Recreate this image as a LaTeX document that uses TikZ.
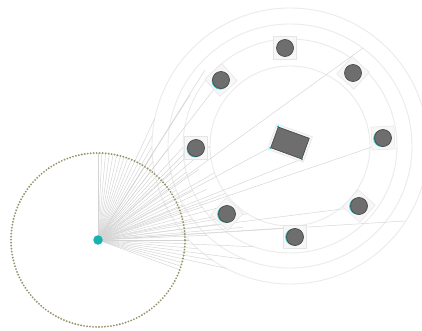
\documentclass[tikz,border=0pt]{standalone}
\usetikzlibrary{calc}
\definecolor{teal1}{RGB}{22,178,178}
\definecolor{dotcol}{RGB}{152,148,108}
\definecolor{nodegray}{RGB}{110,110,110}
\definecolor{nodeline}{RGB}{75,75,75}
\begin{document}
\begin{tikzpicture}[x=1pt,y=-1pt,
  ring/.style={draw=black!8, line width=0.9pt},
  ray/.style={draw=black!17, line width=0.45pt},
  dotring/.style={draw=dotcol, line width=2.1pt, dash pattern=on 0pt off 3pt, line cap=round},
  sqbg/.style={shape=rectangle, draw=black!10, fill=black!3, line width=0.5pt, minimum size=23pt, inner sep=0pt},
  gdot/.style={shape=circle, draw=nodeline, fill=nodegray, line width=0.7pt, minimum size=17pt, inner sep=0pt},
  cydot/.style={shape=circle, fill=teal1!80, minimum size=17pt, inner sep=0pt},
  src/.style={shape=circle, fill=teal1, minimum size=9.5pt, inner sep=0pt},
  rectbg/.style={shape=rectangle, draw=black!10, fill=black!3, line width=0.5pt, minimum width=38pt, minimum height=27pt, inner sep=0pt},
  rectnode/.style={shape=rectangle, draw=nodeline, fill=nodegray, line width=0.7pt, minimum width=33pt, minimum height=22pt, inner sep=0pt},
  corner/.style={shape=circle, fill=teal1, minimum size=2.2pt, inner sep=0pt}
]
\fill[white] (0,0) rectangle (422,331);
\useasboundingbox (0,0) rectangle (422,331);

% centres
\coordinate (C) at (290,146);
\coordinate (Sc) at (98,240);

% concentric rings
\foreach \r in {80,107,122,138}{
  \draw[ring] (C) circle (\r pt);
}

% node positions
\coordinate (p1) at (285,48);
\coordinate (p2) at (353,73);
\coordinate (p3) at (383,138);
\coordinate (p4) at (359,206);
\coordinate (p5) at (295,237);
\coordinate (p6) at (227,214);
\coordinate (p7) at (196,148);
\coordinate (p8) at (221,80);
\coordinate (pr) at (290,143);

% free ends of long rays
\coordinate (q1) at (363,48);
\coordinate (q2) at (405,221);
\coordinate (q3) at (271,147);
\coordinate (q4) at (302,159);
\coordinate (q5) at (375,146);
\coordinate (q6) at (284,228);
\coordinate (q7) at (350,208);
\coordinate (q8) at (205,70);
\coordinate (q9) at (190,95);

% fan of rays
\foreach \i in {0,...,44}{
  \pgfmathsetmacro\th{90-2.5*\i}
  \pgfmathsetmacro\du{-19.2*cos(\th)-9.4*sin(\th)}
  \pgfmathtruncatemacro\k{mod(\i,4)}
  \pgfmathsetmacro\rr{{8.0,10.7,9.4,12.2}[\k]}
  \pgfmathsetmacro\dA{\du*\du-457+\rr*\rr}
  \pgfmathsetmacro\dB{\du*\du-457+190.44}
  \pgfmathsetmacro\tt{\dA>0 ? (-\du-sqrt(abs(\dA))) : (\dB>0 ? (-\du-sqrt(abs(\dB))) : 8.7)}
  \pgfmathsetmacro\tl{max(\tt,8.7)*10}
  \coordinate (e\i) at ({98+\tl*cos(\th)},{240-\tl*sin(\th)});
  \draw[ray] (Sc) -- (e\i);
}

% long rays into the structure
\foreach \q in {q1,q2,q3,q4,q5,q6,q7,q8,q9,p6,p7,p8}{
  \draw[ray] (Sc) -- (\q);
}

% dotted circle
\draw[dotring] (Sc) circle (87pt);

% node backgrounds
\node[sqbg, rotate=0]  (b1) at (p1) {};
\node[sqbg, rotate=48] (b2) at (p2) {};
\node[sqbg, rotate=3]  (b3) at (p3) {};
\node[sqbg, rotate=-42](b4) at (p4) {};
\node[sqbg, rotate=0]  (b5) at (p5) {};
\node[sqbg, rotate=48] (b6) at (p6) {};
\node[sqbg, rotate=0]  (b7) at (p7) {};
\node[sqbg, rotate=42] (b8) at (p8) {};
\node[rectbg, rotate=-20] (rb) at (pr) {};

% cyan crescents
\foreach \p in {p3,p4,p5,p6,p7,p8}{
  \node[cydot] at ($(\p)!1.3pt!(Sc)$) {};
}

% gray nodes
\node[gdot] (n1) at (p1) {};
\node[gdot] (n2) at (p2) {};
\node[gdot] (n3) at (p3) {};
\node[gdot] (n4) at (p4) {};
\node[gdot] (n5) at (p5) {};
\node[gdot] (n6) at (p6) {};
\node[gdot] (n7) at (p7) {};
\node[gdot] (n8) at (p8) {};
\node[rectnode, rotate=-20] (R) at (pr) {};
\node[corner] (c1) at (R.north west) {};
\node[corner] (c2) at (R.south west) {};
\node[corner] (c3) at (R.south east) {};

% source
\node[src] (S) at (Sc) {};
\end{tikzpicture}
\end{document}
